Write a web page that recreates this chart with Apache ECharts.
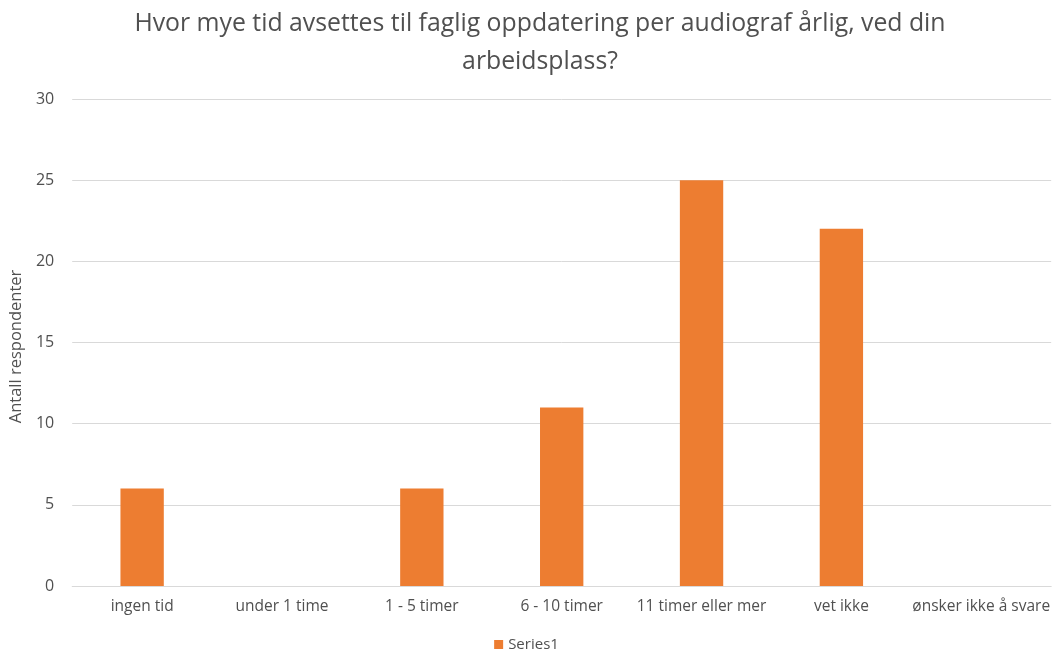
<!DOCTYPE html>
<html><head><meta charset="utf-8">
<script src="https://cdn.jsdelivr.net/npm/echarts@6/dist/echarts.min.js"></script>
<style>html,body{margin:0;padding:0;background:#fff}#c{width:1053px;height:655px}</style>
</head><body><div id="c"></div>
<script>
const categories = ["ingen tid","under 1 time","1 - 5 timer","6 - 10 timer","11 timer eller mer","vet ikke","ønsker ikke å svare"];
const values = [6,0,6,11,25,22,0];
const seriesName = "Series1";
const titleText = "Hvor mye tid avsettes til faglig oppdatering per audiograf årlig, ved din\narbeidsplass?";
const yAxisName = "Antall respondenter";

const chart = echarts.init(document.getElementById('c'));
const font = "'Open Sans', 'Noto Sans', sans-serif";
const txt = '#505050';
chart.setOption({
  animation:false,
  title:{text:titleText,left:535,textAlign:'center',top:0,
    textStyle:{fontFamily:font,fontSize:24.8,fontWeight:'normal',color:txt,lineHeight:38}},
  grid:{left:72,right:0,top:99,bottom:69,containLabel:false},
  legend:{bottom:-2,left:'center',itemWidth:9,itemHeight:9,icon:'rect',itemGap:5,
    textStyle:{fontFamily:font,fontSize:15,color:txt}},
  xAxis:{type:'category',data:categories,
    axisLine:{lineStyle:{color:'#d9d9d9',width:1}},axisTick:{show:false},
    axisLabel:{fontFamily:font,fontSize:15.5,color:txt,margin:13,interval:0}},
  yAxis:{type:'value',min:0,max:30,interval:5,name:yAxisName,nameLocation:'middle',nameGap:47,
    nameTextStyle:{fontFamily:font,fontSize:16.5,color:txt,padding:[0,0,0,-8]},
    axisLine:{show:false},axisTick:{show:false},
    axisLabel:{fontFamily:font,fontSize:16,color:txt,margin:18},
    splitLine:{lineStyle:{color:'#d9d9d9',width:1}}},
  series:[{name:seriesName,type:'bar',data:values,barWidth:'31%',itemStyle:{color:'#ED7D31'}}]
});
</script></body></html>
